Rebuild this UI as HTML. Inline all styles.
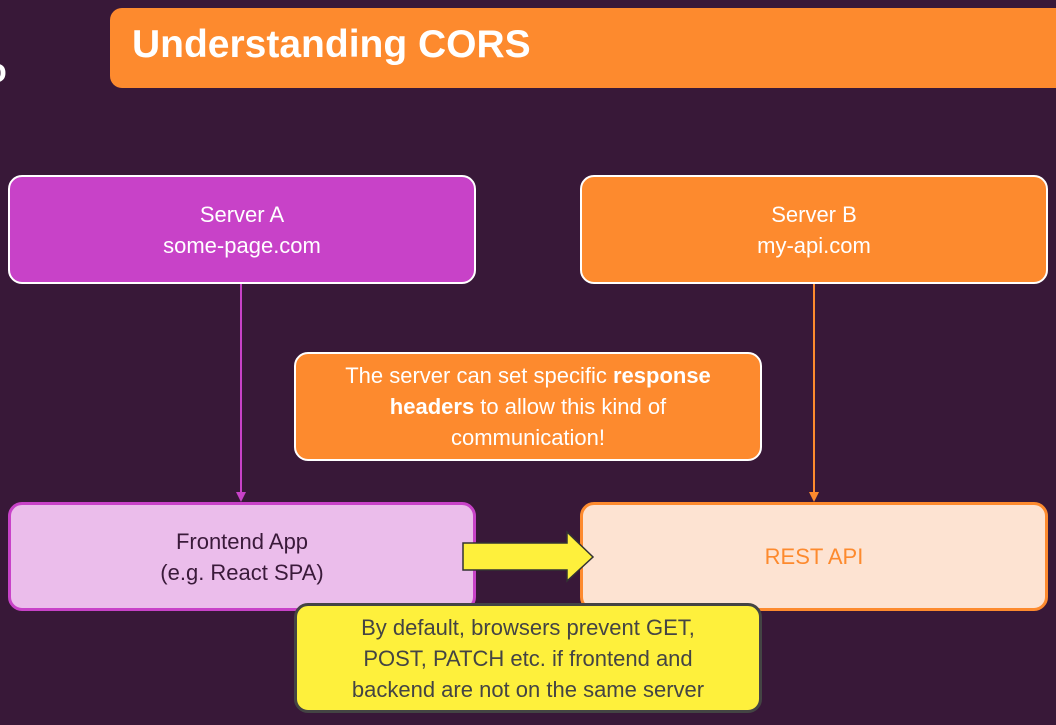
<!DOCTYPE html>
<html><head><style>
body{margin:0;width:1056px;height:725px;background:#381838;position:relative;overflow:hidden;font-family:"Liberation Sans",sans-serif}
.b{position:absolute;box-sizing:border-box;border-radius:14px;display:flex;align-items:center;justify-content:center;text-align:center;font-size:22px;line-height:31px}
</style></head><body>
<div style="position:absolute;left:-14px;top:52px;color:#fff;font-weight:bold;font-size:34px">o</div>
<div style="position:absolute;left:110px;top:8px;width:960px;height:80px;background:#fd8a2e;border-radius:12px"></div>
<div style="position:absolute;left:132px;top:23px;color:#fff;font-weight:bold;font-size:39px">Understanding CORS</div>
<div class="b" style="left:8px;top:175px;width:468px;height:109px;background:#c842c8;border:2.5px solid #fff;color:#fff"><div>Server A<br>some-page.com</div></div>
<div class="b" style="left:580px;top:175px;width:468px;height:109px;background:#fd8a2e;border:2.5px solid #fff;color:#fff"><div>Server B<br>my-api.com</div></div>
<svg style="position:absolute;left:0;top:0" width="1056" height="725">
<line x1="241" y1="284" x2="241" y2="494" stroke="#c842c8" stroke-width="2"/>
<polygon points="236,492 246,492 241,502" fill="#c842c8"/>
<line x1="814" y1="284" x2="814" y2="494" stroke="#fd8a2e" stroke-width="2"/>
<polygon points="809,492 819,492 814,502" fill="#fd8a2e"/>
</svg>
<div class="b" style="left:294px;top:352px;width:468px;height:109px;background:#fd8a2e;border:2.5px solid #fff;color:#fff"><div>The server can set specific <b>response</b><br><b>headers</b> to allow this kind of<br>communication!</div></div>
<div class="b" style="left:8px;top:502px;width:468px;height:109px;background:#ebbdeb;border:3px solid #c842c8;color:#3a1a3a"><div>Frontend App<br>(e.g. React SPA)</div></div>
<div class="b" style="left:580px;top:502px;width:468px;height:109px;background:#fde3d2;border:3px solid #fd8a2e;color:#fd8a2e"><div>REST API</div></div>
<svg style="position:absolute;left:0;top:0" width="1056" height="725">
<polygon points="463,543 567,543 567,532 593,557 567,581 567,570 463,570" fill="#fef03c" stroke="#333" stroke-width="1.5"/>
</svg>
<div class="b" style="left:294px;top:603px;width:468px;height:110px;background:#fef03c;border:3px solid #444;color:#444"><div>By default, browsers prevent GET,<br>POST, PATCH etc. if frontend and<br>backend are not on the same server</div></div>
</body></html>
